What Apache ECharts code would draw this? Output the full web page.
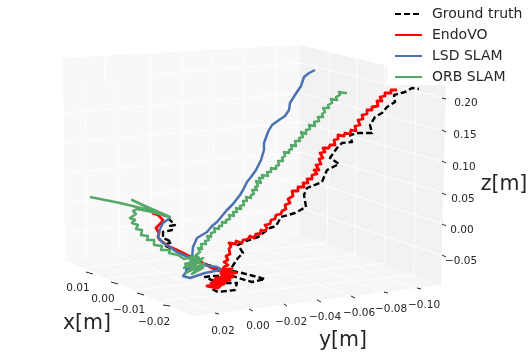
<!DOCTYPE html>
<html><head><meta charset="utf-8">
<style>html,body{margin:0;padding:0;background:#fff}#c{width:532px;height:360px}</style>
<script src="https://cdn.jsdelivr.net/npm/echarts@6/dist/echarts.min.js"></script>
</head><body><div id="c"></div>
<script>
// Trajectories: [across, down]
const groundTruth = [[161,213],[168,218],[175,225],[170,226],[172,230],[163,232],[163,238],[172,242],[170,244],[164,245],[180,253],[202,263],[217,268],[242,273],[265,279],[252,282],[232,276],[212,276],[205,277],[218,283],[237,283],[235,290],[218,292],[212,289],[222,279],[230,270],[238,258],[243,253],[238,245],[246,241],[258,237],[270,228],[276,226],[281,217],[295,213],[306,207],[304,195],[307,188],[322,182],[324,177],[327,170],[339,164],[330,158],[337,148],[342,143],[352,142],[350,135],[359,133],[372,133],[370,125],[375,117],[382,113],[387,107],[395,102],[394,95],[405,92],[412,88],[419,89]];
const endoVO = [[152,213],[158,215],[163,220],[160,224],[156,228],[159,233],[158,237],[160,240],[168,246],[177,250],[185,254],[193,258],[203,263],[212,268],[222,272],[232,269],[220,270],[236,273],[221,274],[233,277],[216,278],[230,280],[211,283],[224,284],[207,286],[218,288],[226,281],[214,280],[228,274],[222,271],[224,267],[228,265],[224,262],[228,260],[226,256],[230,254],[229,249],[231,246],[229,243],[236,244],[236,241],[242,243],[243,240],[248,239],[250,236],[254,238],[256,234],[260,234],[261,230],[265,231],[267,228],[265,225],[270,224],[271,220],[275,219],[276,215],[281,214],[282,211],[286,209],[285,205],[290,203],[288,199],[293,196],[292,191],[298,191],[298,187],[304,187],[303,183],[308,183],[307,179],[312,179],[312,175],[317,174],[314,170],[319,170],[316,165],[321,164],[319,159],[323,158],[320,153],[325,152],[323,148],[329,148],[330,145],[335,145],[334,140],[338,139],[338,135],[344,136],[345,133],[350,134],[351,130],[356,131],[355,126],[360,125],[358,120],[363,119],[362,115],[367,114],[367,110],[372,110],[372,107],[378,106],[377,101],[382,101],[380,97],[385,96],[385,93],[391,93],[391,90],[397,90]];
const lsdSlam = [[170,218],[163,223],[160,229],[158,237],[163,243],[170,247],[177,252],[190,258],[192,262],[187,264],[186,272],[203,265],[217,267],[220,270],[205,273],[190,278],[183,276],[187,271],[192,265],[192,258],[193,247],[197,238],[207,232],[212,226],[217,222],[222,216],[227,210],[233,204],[240,195],[243,190],[247,182],[251,177],[256,170],[261,160],[264,150],[264,143],[268,132],[272,125],[279,120],[285,116],[289,110],[290,103],[295,95],[301,86],[304,77],[309,73],[315,70]];
const orbSlam = [[90,197],[120,203],[145,209],[170,217],[145,206],[132,200],[150,209],[170,217],[152,212],[137,209],[133,211],[136,214],[130,218],[135,220],[132,223],[138,225],[136,229],[142,230],[141,235],[148,236],[147,240],[154,240],[154,245],[162,246],[161,250],[170,250],[169,253],[178,255],[184,259],[197,256],[184,268],[203,258],[186,273],[204,263],[192,274],[203,268],[185,264],[200,260],[188,258],[204,265],[190,270],[198,262],[190,264],[199,258],[196,255],[200,252],[198,248],[202,249],[201,244],[206,244],[205,241],[209,240],[207,236],[211,237],[211,233],[215,232],[214,228],[219,229],[219,226],[222,226],[222,222],[226,223],[226,220],[230,219],[229,215],[234,216],[233,212],[237,212],[236,208],[241,209],[240,206],[244,205],[243,201],[247,201],[246,197],[251,198],[251,195],[254,194],[252,190],[257,190],[255,187],[258,186],[256,181],[261,183],[259,178],[263,178],[262,175],[268,176],[267,172],[271,172],[271,168],[276,169],[276,166],[279,165],[278,161],[283,161],[282,158],[285,156],[284,152],[289,153],[289,150],[292,149],[291,145],[296,146],[295,141],[300,141],[299,138],[303,137],[301,132],[306,134],[306,130],[310,129],[309,125],[315,126],[314,122],[319,121],[318,117],[323,117],[322,114],[325,112],[323,108],[329,108],[328,105],[332,103],[331,99],[337,100],[336,97],[340,95],[339,92],[345,93],[347,93]];
const seriesNames = ['Ground truth','EndoVO','LSD SLAM','ORB SLAM'];
const seriesColors = ['#000000','#ff0000','#4c72b0','#55a868'];
const xTickLabels = ['0.01','0.00','\u22120.01','\u22120.02'];
const yTickLabels = ['0.02','0.00','\u22120.02','\u22120.04','\u22120.06','\u22120.08','\u22120.10'];
const zTickLabels = ['0.20','0.15','0.10','0.05','0.00','\u22120.05'];
const axisNames = ['x[m]','y[m]','z[m]'];

// Layout of the projected box
const leftWall = [[63,58],[300,45],[300,235],[65,260]];
const rightWall = [[300,45],[446,80],[441,285],[300,235]];
const floor = [[65,260],[300,235],[441,285],[192,316]];
const gridSegs = [
 [[63,113],[300,93]],[[63,143],[300,122]],[[63,173],[300,152]],[[63,203],[300,178]],[[63,233],[300,208]],[[145,75],[300,63]],
 [[300,63],[444,98]],[[300,93],[444,131]],[[300,122],[444,162]],[[300,152],[444,193]],[[300,178],[444,224]],[[300,208],[444,256]],
 [[85,83],[87,258]],[[117,83],[120,255]],[[150,55],[152,252]],[[182,53],[183,248]],[[213,52],[214,245]],[[245,50],[245,242]],[[277,47],[274,238]],[[105,57],[105,83]],
 [[330,52],[327,243]],[[357,58],[355,255]],[[385,63],[385,263]],[[416,72],[414,275]],
 [[87,258],[215,313]],[[120,255],[250,309]],[[152,252],[282,304]],[[183,248],[315,300]],[[214,245],[349,296]],[[245,242],[382,292]],[[274,238],[415,288]],
 [[82,268],[327,243]],[[107,278],[355,255]],[[133,290],[385,263]],[[160,301],[414,275]]
];
const tickSegs = [
 [[86,272],[93,274]],[[111,282],[118,284]],[[137,293],[144,295]],[[163,305],[170,306]],
 [[215,313],[219,314]],[[249,309],[253,311]],[[284,304],[287,306]],[[317,300],[321,302]],[[351,296],[355,298]],[[384,292],[388,293]],[[417,288],[421,289]],
 [[442,98],[446,99]],[[442,130],[446,132]],[[442,161],[446,163]],[[442,193],[446,195]],[[442,224],[446,226]],[[442,255],[446,257]]
];
const xLabelPos = [[78,288],[103,299],[129,310],[154,322]];
const yLabelPos = [[223,331],[258,326],[291,322],[325,317],[359,313],[391,309],[424,305]];
const zLabelPos = [[466,103],[465,135],[464,167],[463,199],[462,230],[461,261]];
const namePos = [[87,324],[343,341],[504,185]];
const paneColors = ['#f8f8f8','#f2f2f2','#f6f6f6'];

const textColor = '#262626';
function labels(texts, pos, size){
  return {type:'scatter',silent:true,symbolSize:0,z:6,animation:false,
    itemStyle:{opacity:1},
    data:texts.map((t,i)=>({value:pos[i],name:t})),
    label:{show:true,position:'inside',opacity:1,formatter:p=>p.name,color:textColor,textBorderWidth:0,fontFamily:'DejaVu Sans',fontSize:size}};
}
function segSeries(segs,color,width,z){
  return {type:'custom',silent:true,z:z,animation:false,data:segs.map((s,i)=>[i]),clip:false,
    renderItem:(p,api)=>{const s=segs[api.value(0)];const a=api.coord(s[0]),b=api.coord(s[1]);
      return {type:'line',shape:{x1:a[0],y1:a[1],x2:b[0],y2:b[1]},style:{stroke:color,lineWidth:width}};}};
}
const panes=[leftWall,rightWall,floor];
const chart=echarts.init(document.getElementById('c'),null,{renderer:'canvas'});
const widths=[2.4,2.8,2.5,2.5];
const lines=[groundTruth,endoVO,lsdSlam,orbSlam].map((d,i)=>({
  name:seriesNames[i],type:'line',data:d,showSymbol:false,symbol:'none',smooth:false,z:3+i*0.1,animation:false,clip:false,
  itemStyle:{color:seriesColors[i]},
  lineStyle:{color:seriesColors[i],width:widths[i],type:i===0?[6,3]:'solid',join:'round'}
}));
chart.setOption({
  backgroundColor:'#fff',animation:false,
  grid:{left:0,right:0,top:0,bottom:0},
  xAxis:{type:'value',min:0,max:532,show:false},
  yAxis:{type:'value',min:0,max:360,inverse:true,show:false},
  tooltip:{show:false},
  legend:{data:seriesNames,orient:'vertical',left:387,top:0,padding:[7,30,1,7],itemGap:7,itemWidth:27,itemHeight:14,
    backgroundColor:'#fff',selectedMode:false,itemStyle:{opacity:0},lineStyle:{width:2},
    textStyle:{fontFamily:'DejaVu Sans',fontSize:14,color:textColor,padding:[0,0,0,5]}},
  series:[
    {type:'custom',silent:true,z:1,animation:false,data:panes.map((p,i)=>[i]),
     renderItem:(p,api)=>{const i=api.value(0);
       return {type:'polygon',shape:{points:panes[i].map(c=>api.coord(c))},style:{fill:paneColors[i]}};}},
    segSeries(gridSegs,'#ffffff',1,2),
    segSeries(tickSegs,'#262626',1,2),
    ...lines,
    labels(xTickLabels,xLabelPos,10.5),labels(yTickLabels,yLabelPos,10.5),labels(zTickLabels,zLabelPos,10.5),
    labels(axisNames,namePos,20.5)
  ]
});
</script></body></html>
